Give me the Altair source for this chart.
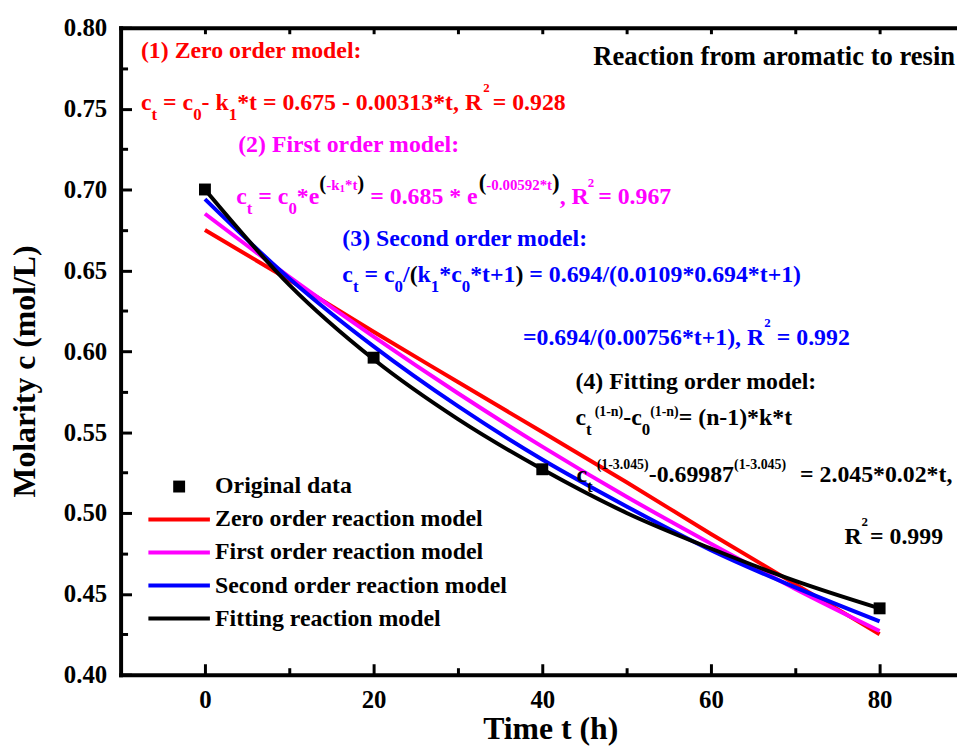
import altair as alt
import pandas as pd

# ---------------- data ----------------
t_obs = [0, 20, 40, 80]
c_obs = [0.700, 0.596, 0.527, 0.441]

t_model = [0, 10, 20, 30, 40, 50, 60, 70, 80]
c_zero = [0.675, 0.644, 0.612, 0.581, 0.550, 0.519, 0.487, 0.456, 0.425]
c_first = [0.685, 0.646, 0.609, 0.574, 0.541, 0.510, 0.481, 0.453, 0.427]
c_second = [0.694, 0.645, 0.603, 0.566, 0.533, 0.504, 0.477, 0.454, 0.433]
c_fitting = [0.700, 0.641, 0.595, 0.558, 0.527, 0.500, 0.478, 0.458, 0.441]

obs_label = "Original data"
model_labels = ["Zero order reaction model", "First order reaction model",
                "Second order reaction model", "Fitting reaction model"]
model_colors = ["#ff0000", "#ff00ff", "#0000ff", "#000000"]

x_major = [0, 20, 40, 60, 80]
x_minor = [10, 30, 50, 70]
x_top = [0, 10, 20, 30, 40, 50, 60, 70, 80]
y_major = [0.40, 0.45, 0.50, 0.55, 0.60, 0.65, 0.70, 0.75, 0.80]
y_minor = [0.425, 0.475, 0.525, 0.575, 0.625, 0.675, 0.725, 0.775]

# ---------------- layout ----------------
W, H = 843, 652
PAD_L, PAD_T = 113.5, 17
X_DOMAIN = [-10, -10 + W / 8.5]
Y_DOMAIN = [0.40, 0.80]
FONT = "Liberation Serif"

RED, MAG, BLU, BLK = "#ff0000", "#ff00ff", "#0000ff", "#000000"

# Times-Bold advance widths (1/1000 em)
TB = {" ": 250, "(": 333, ")": 333, "*": 500, "+": 570, ",": 250, "-": 333, ".": 250,
      "/": 278, ":": 333, "=": 570, "R": 722, "F": 611, "S": 556, "Z": 667,
      "a": 500, "c": 444, "d": 556, "e": 444, "f": 333, "g": 500, "i": 278, "k": 556,
      "l": 278, "m": 833, "n": 556, "o": 500, "r": 444, "s": 389, "t": 333}


def tw(s, size):
    return sum(TB.get(ch, 500) for ch in s) * size / 1000.0


def px_to_x(px):
    return X_DOMAIN[0] + (px - 8 - PAD_L) / W * (X_DOMAIN[1] - X_DOMAIN[0])


def py_to_y(py):
    return Y_DOMAIN[1] - (py - 8 - PAD_T) / H * (Y_DOMAIN[1] - Y_DOMAIN[0])


# style: (font size, baseline shift)
STY = {"n": (24, 0), "s": (17, 10), "q": (13, -18), "e": (15, -14), "E": (21, -14),
       "F": (23, -14), "k": (11, -12), "u": (14, -9), "U": (14, -13), "T": (26.8, 0)}

ann_lines = [
    (0, 142, 55, [("(1) Zero order model:", "n", RED, 0)]),
    (0, 142, 108, [("c", "n", RED, 0), ("t", "s", RED, 0), (" = c", "n", RED, 0), ("0", "s", RED, 0),
                   ("- k", "n", RED, 0), ("1", "s", RED, 0), ("*t = 0.675 - 0.00313*t, R", "n", RED, 0),
                   ("2", "q", RED, 1), (" = 0.928", "n", RED, -3)]),
    (0, 240, 150, [("(2) First order model:", "n", MAG, 0)]),
    (0, 238, 203, [("c", "n", MAG, 0), ("t", "s", MAG, 0), (" = c", "n", MAG, 0), ("0", "s", MAG, 0),
                   ("*e", "n", MAG, 0), ("(", "E", BLK, 0), ("-k", "e", MAG, 0), ("1", "k", MAG, 0),
                   ("*t", "e", MAG, 0), (")", "E", BLK, 0), (" = 0.685 * e", "n", MAG, 0),
                   ("(", "F", BLK, 1), ("-0.00592*t", "e", MAG, 0), (")", "F", BLK, 0),
                   (", R", "n", MAG, 0), ("2", "q", MAG, -1), (" = 0.967", "n", MAG, -2)]),
    (1, 345, 245, [("(3) Second order model:", "n", BLU, 0)]),
    (1, 345, 281, [("c", "n", BLU, 0), ("t", "s", BLU, 0), (" = c", "n", BLU, 0), ("0", "s", BLU, 0),
                   ("/", "n", BLU, 0), ("(", "n", BLK, 0), ("k", "n", BLU, 0), ("1", "s", BLU, 0),
                   ("*c", "n", BLU, 0), ("0", "s", BLU, 0), ("*t+1", "n", BLU, 0), (")", "n", BLK, 0),
                   (" = 0.694/(0.0109*0.694*t+1)", "n", BLU, 0)]),
    (1, 527, 345, [("=0.694/(0.00756*t+1), R", "n", BLU, 0), ("2", "q", BLU, 0), (" = 0.992", "n", BLU, 0)]),
    (2, 598, 63, [("Reaction from aromatic to resin", "T", BLK, 0)]),
    (2, 580, 389, [("(4) Fitting order model:", "n", BLK, 0)]),
    (2, 580, 425, [("c", "n", BLK, 0), ("t", "s", BLK, 0), ("(1-n)", "u", BLK, 3), ("-c", "n", BLK, 0),
                   ("0", "s", BLK, 0), ("(1-n)", "u", BLK, 0), ("= (n-1)*k*t", "n", BLK, 0)]),
    (2, 581, 483, [("c", "n", BLK, 0), ("t", "s", BLK, 0), ("(1-3.045)", "U", BLK, 4), ("-0.69987", "n", BLK, 0),
                   ("(1-3.045)", "U", BLK, 0), (" = 2.045*0.02*t,", "n", BLK, 8)]),
    (2, 851, 545, [("R", "n", BLK, 0), ("2", "q", BLK, 0), ("= 0.999", "n", BLK, 2)]),
]

# Vega trims whitespace from text, so leading spaces become an x shift instead
rows = []
for grp, left, base, segs in ann_lines:
    cur = left
    for text, kind, col, kern in segs:
        size, dy = STY[kind]
        cur += kern
        body = text.strip()
        lead = tw(text[:len(text) - len(text.lstrip())], size)
        rows.append({"grp": grp, "x": px_to_x(cur + lead), "y": py_to_y(base + dy),
                     "text": body, "size": size, "col": col})
        cur += tw(text, size)
ann_df = pd.DataFrame(rows)

x_scale = alt.Scale(domain=X_DOMAIN, nice=False, zero=False)
y_scale = alt.Scale(domain=Y_DOMAIN, nice=False, zero=False)


def tick_axis(orient, values, size, offset, domain=False):
    return alt.Axis(orient=orient, values=values, offset=offset, labels=False, ticks=True,
                    tickSize=size, tickWidth=3, tickColor="black", domain=domain,
                    domainWidth=4, domainColor="black", domainCap="square", grid=False)


# ---------------- model curves ----------------
lines_df = pd.DataFrame({
    "t": t_model * 4,
    "c": c_zero + c_first + c_second + c_fitting,
    "model": [m for m in model_labels for _ in t_model],
})
lines = alt.Chart(lines_df).mark_line(strokeWidth=4, interpolate="monotone").encode(
    x=alt.X("t:Q", scale=x_scale, axis=alt.Axis(
        orient="bottom", values=x_major, format="d", ticks=False, labelFontSize=25,
        labelPadding=13, domainWidth=4, domainColor="black", domainCap="square", grid=False,
        title="Time t (h)", titleFontSize=32, titleX=433, titleY=64, titleAlign="center",
        titleBaseline="alphabetic")),
    y=alt.Y("c:Q", scale=y_scale, axis=alt.Axis(
        orient="left", values=y_major, format=".2f", ticks=False, labelFontSize=25,
        labelPadding=14, domainWidth=4, domainColor="black", domainCap="square", grid=False,
        title="Molarity c (mol/L)", titleFontSize=32, titleX=-87, titleY=346, titleAngle=270,
        titleAlign="center", titleBaseline="alphabetic")),
    color=alt.Color("model:N", scale=alt.Scale(domain=model_labels, range=model_colors),
                    legend=alt.Legend(orient="none", legendX=47, legendY=483.6, title=None,
                                      symbolType="M-7.75,0H7.75", symbolSize=64,
                                      symbolStrokeWidth=4, labelOffset=24.2, rowPadding=9.3,
                                      padding=0, labelLimit=0)),
)

# ---------------- observed points ----------------
pts_df = pd.DataFrame({"t": t_obs, "c": c_obs, "series": [obs_label] * len(t_obs)})
pts = alt.Chart(pts_df).mark_point(shape="square", filled=True, size=144, opacity=1).encode(
    x=alt.X("t:Q", scale=x_scale, axis=None),
    y=alt.Y("c:Q", scale=y_scale, axis=None),
    color=alt.Color("series:N", scale=alt.Scale(domain=[obs_label], range=["black"]),
                    legend=alt.Legend(orient="none", legendX=47, legendY=450.4, title=None,
                                      symbolType="square", symbolSize=144, labelOffset=24.2,
                                      rowPadding=9.3, padding=0, labelLimit=0)),
)


def ann_layer(grp, xaxis, yaxis):
    return alt.Chart(ann_df[ann_df.grp == grp]).mark_text(
        font=FONT, fontWeight="bold", align="left", baseline="alphabetic").encode(
        x=alt.X("x:Q", scale=x_scale, axis=xaxis, title=None),
        y=alt.Y("y:Q", scale=y_scale, axis=yaxis, title=None),
        text="text:N",
        size=alt.Size("size:Q", scale=None),
        color=alt.Color("col:N", scale=None),
    )


annA = ann_layer(0, tick_axis("top", x_major, 11, -H), tick_axis("right", y_major, 11, -W))
annB = ann_layer(1, tick_axis("top", x_minor, 7, -H), tick_axis("right", y_minor, 7, -W))
annC = ann_layer(2, tick_axis("bottom", x_top, 6, -H, domain=True), None)

chart = alt.layer(lines, pts, annA, annB, annC).resolve_scale(
    color="independent").resolve_axis(x="independent", y="independent").properties(
    width=W, height=H,
    padding={"left": PAD_L, "top": PAD_T, "right": 0, "bottom": 71},
    autosize=alt.AutoSizeParams(type="none"),
    background="white",
).configure_view(stroke=None).configure_axis(
    labelFont=FONT, labelFontWeight="bold", labelColor="black",
    titleFont=FONT, titleFontWeight="bold", titleColor="black",
).configure_legend(
    labelFont=FONT, labelFontWeight="bold", labelFontSize=24, labelColor="black",
)

chart.save("out.html", embed_options={"renderer": "svg", "actions": False})
